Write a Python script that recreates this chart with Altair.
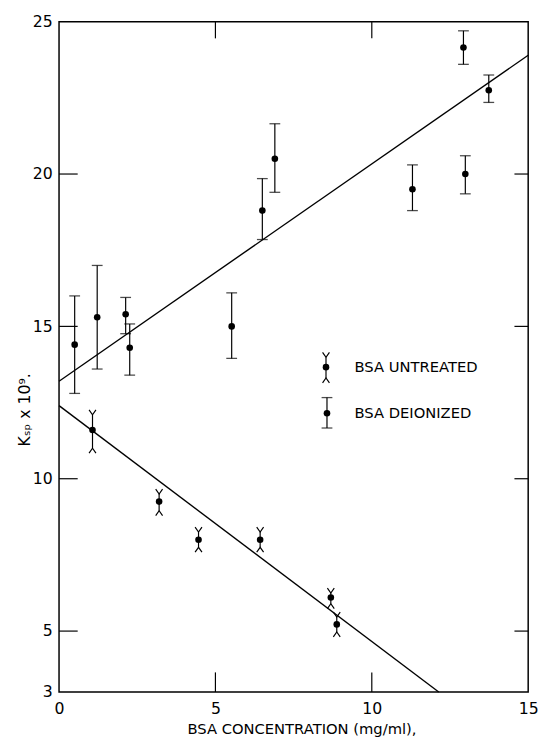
import altair as alt
import pandas as pd

# ---- data ----
# BSA deionized (flat caps)
dei_x  = [0.50, 1.22, 2.13, 2.26, 5.52, 6.50, 6.90, 11.30, 12.93, 12.99, 13.74]
dei_y  = [14.4, 15.3, 15.4, 14.3, 15.0, 18.8, 20.5, 19.5, 24.15, 20.0, 22.75]
dei_lo = [12.8, 13.6, 14.76, 13.4, 13.95, 17.85, 19.4, 18.8, 23.6, 19.35, 22.35]
dei_hi = [16.0, 17.0, 15.95, 15.08, 16.1, 19.85, 21.65, 20.3, 24.7, 20.6, 23.25]

# BSA untreated (Y-shaped caps)
unt_x  = [1.07, 3.20, 4.46, 6.43, 8.69, 8.88]
unt_y  = [11.6, 9.25, 8.0, 8.0, 6.1, 5.22]
unt_lo = [11.0, 8.95, 7.75, 7.75, 5.9, 4.97]
unt_hi = [12.1, 9.5, 8.25, 8.25, 6.25, 5.46]

# fitted lines
dei_fit_x = [0, 15]
dei_fit_y = [13.2, 23.9]
unt_fit_x = [0, 12.14]
unt_fit_y = [12.4, 3.0]

x_labels = [0, 5, 10, 15]
y_labels = [3, 5, 10, 15, 20, 25]
x_ticks = [5, 10]
y_ticks = [5, 10, 15, 20]

legend_labels = ["BSA UNTREATED", "BSA DEIONIZED"]
x_title = "BSA CONCENTRATION  (mg/ml),"
y_title = "Kₛₚ x 10⁹."

# ---- chart ----
W, H = 478, 683
FONT = "DejaVu Sans"
INK = "black"

dei = pd.DataFrame({"x": dei_x, "y": dei_y, "lo": dei_lo, "hi": dei_hi})
unt = pd.DataFrame({"x": unt_x, "y": unt_y, "lo": unt_lo, "hi": unt_hi})
dei_fit = pd.DataFrame({"x": dei_fit_x, "y": dei_fit_y})
unt_fit = pd.DataFrame({"x": unt_fit_x, "y": unt_fit_y})
xt = pd.DataFrame({"t": x_ticks})
yt = pd.DataFrame({"t": y_ticks})

xs = alt.Scale(domain=[0, 15], nice=False, zero=False)
ys = alt.Scale(domain=[3, 25], nice=False, zero=False)

xax = alt.Axis(values=x_labels, title=x_title, grid=False, ticks=False, tickSize=0,
               domain=False, labelFont=FONT, labelFontSize=16, labelColor=INK,
               labelPadding=9, labelFlush=False, titleFont=FONT, titleFontSize=15,
               titleFontWeight="normal", titleColor=INK, titleBaseline="top",
               titleY=30, titleX=247)
yax = alt.Axis(values=y_labels, title=y_title, grid=False, ticks=False, tickSize=0,
               domain=False, labelFont=FONT, labelFontSize=16, labelColor=INK,
               labelPadding=7, labelFlush=False, titleFont=FONT, titleFontSize=16,
               titleFontWeight="normal", titleColor=INK, titleAngle=270,
               titleBaseline="alphabetic", titleAlign="center", titleX=-30, titleY=395)

def X(f):
    return alt.X(f, scale=xs, axis=xax)

def Y(f):
    return alt.Y(f, scale=ys, axis=yax)

UP_Y = "M-0.7,-1L0,0L0.7,-1"
DOWN_Y = "M-0.7,1L0,0L0.7,1"

# deionized error bars
dei_bar = alt.Chart(dei).mark_rule(color=INK, strokeWidth=1.2).encode(
    x=X("x:Q"), y=Y("lo:Q"), y2="hi:Q")
dei_cap = alt.Chart(dei).transform_fold(["lo", "hi"], as_=["k", "v"]).mark_tick(
    color=INK, orient="horizontal", size=11, thickness=1.3).encode(
    x=X("x:Q"), y=Y("v:Q"))

# untreated error bars
unt_bar = alt.Chart(unt).mark_rule(color=INK, strokeWidth=1.2).encode(
    x=X("x:Q"), y=Y("lo:Q"), y2="hi:Q")
unt_top = alt.Chart(unt).mark_point(shape=UP_Y, filled=False, size=100, color=INK,
                                    strokeWidth=1.2, opacity=1).encode(
    x=X("x:Q"), y=Y("hi:Q"))
unt_bot = alt.Chart(unt).mark_point(shape=DOWN_Y, filled=False, size=100, color=INK,
                                    strokeWidth=1.2, opacity=1).encode(
    x=X("x:Q"), y=Y("lo:Q"))

dei_pts = alt.Chart(dei).mark_circle(color=INK, size=45, opacity=1).encode(
    x=X("x:Q"), y=Y("y:Q"))
unt_pts = alt.Chart(unt).mark_circle(color=INK, size=45, opacity=1).encode(
    x=X("x:Q"), y=Y("y:Q"))

dei_line = alt.Chart(dei_fit).mark_line(color=INK, strokeWidth=1.4).encode(
    x=X("x:Q"), y=Y("y:Q"))
unt_line = alt.Chart(unt_fit).mark_line(color=INK, strokeWidth=1.4).encode(
    x=X("x:Q"), y=Y("y:Q"))

# inward ticks on all four sides
tick_b = alt.Chart(xt).mark_rule(color=INK, strokeWidth=1.2).encode(
    x=X("t:Q"), y=alt.value(H), y2=alt.value(H - 20))
tick_t = alt.Chart(xt).mark_rule(color=INK, strokeWidth=1.2).encode(
    x=X("t:Q"), y=alt.value(0), y2=alt.value(17))
tick_l = alt.Chart(yt).mark_rule(color=INK, strokeWidth=1.2).encode(
    y=Y("t:Q"), x=alt.value(0), x2=alt.value(19))
tick_r = alt.Chart(yt).mark_rule(color=INK, strokeWidth=1.2).encode(
    y=Y("t:Q"), x=alt.value(W), x2=alt.value(W - 14))

# legend (drawn inside the plot)
one = pd.DataFrame({"i": [0]})
LX = 272
leg = [
    alt.Chart(one).mark_rule(color=INK, strokeWidth=1.2).encode(
        x=alt.value(LX), y=alt.value(342), y2=alt.value(363)),
    alt.Chart(one).mark_point(shape=UP_Y, filled=False, size=100, color=INK,
                              strokeWidth=1.2, opacity=1).encode(
        x=alt.value(LX), y=alt.value(342)),
    alt.Chart(one).mark_point(shape=DOWN_Y, filled=False, size=100, color=INK,
                              strokeWidth=1.2, opacity=1).encode(
        x=alt.value(LX), y=alt.value(363)),
    alt.Chart(one).mark_circle(color=INK, size=45, opacity=1).encode(
        x=alt.value(LX), y=alt.value(352)),
    alt.Chart(one).mark_text(text=legend_labels[0], align="left", baseline="middle",
                             font=FONT, fontSize=15, color=INK).encode(
        x=alt.value(301), y=alt.value(352)),
    alt.Chart(one).mark_rule(color=INK, strokeWidth=1.2).encode(
        x=alt.value(LX + 1), y=alt.value(383), y2=alt.value(414)),
    alt.Chart(one).mark_tick(color=INK, orient="horizontal", size=11, thickness=1.3).encode(
        x=alt.value(LX + 1), y=alt.value(383)),
    alt.Chart(one).mark_tick(color=INK, orient="horizontal", size=11, thickness=1.3).encode(
        x=alt.value(LX + 1), y=alt.value(414)),
    alt.Chart(one).mark_circle(color=INK, size=45, opacity=1).encode(
        x=alt.value(LX + 1), y=alt.value(399)),
    alt.Chart(one).mark_text(text=legend_labels[1], align="left", baseline="middle",
                             font=FONT, fontSize=15, color=INK).encode(
        x=alt.value(301), y=alt.value(399)),
]

chart = alt.layer(
    dei_line, unt_line,
    dei_bar, dei_cap, unt_bar, unt_top, unt_bot,
    dei_pts, unt_pts,
    tick_b, tick_t, tick_l, tick_r,
    *leg,
).properties(
    width=W, height=H,
    autosize=alt.AutoSizeParams(type="none"),
    padding={"left": 52, "top": 7, "right": 10, "bottom": 45},
    background="white",
).configure_view(stroke=INK, strokeWidth=1.5)

chart.save("out.html", embed_options={"renderer": "svg", "actions": False})
